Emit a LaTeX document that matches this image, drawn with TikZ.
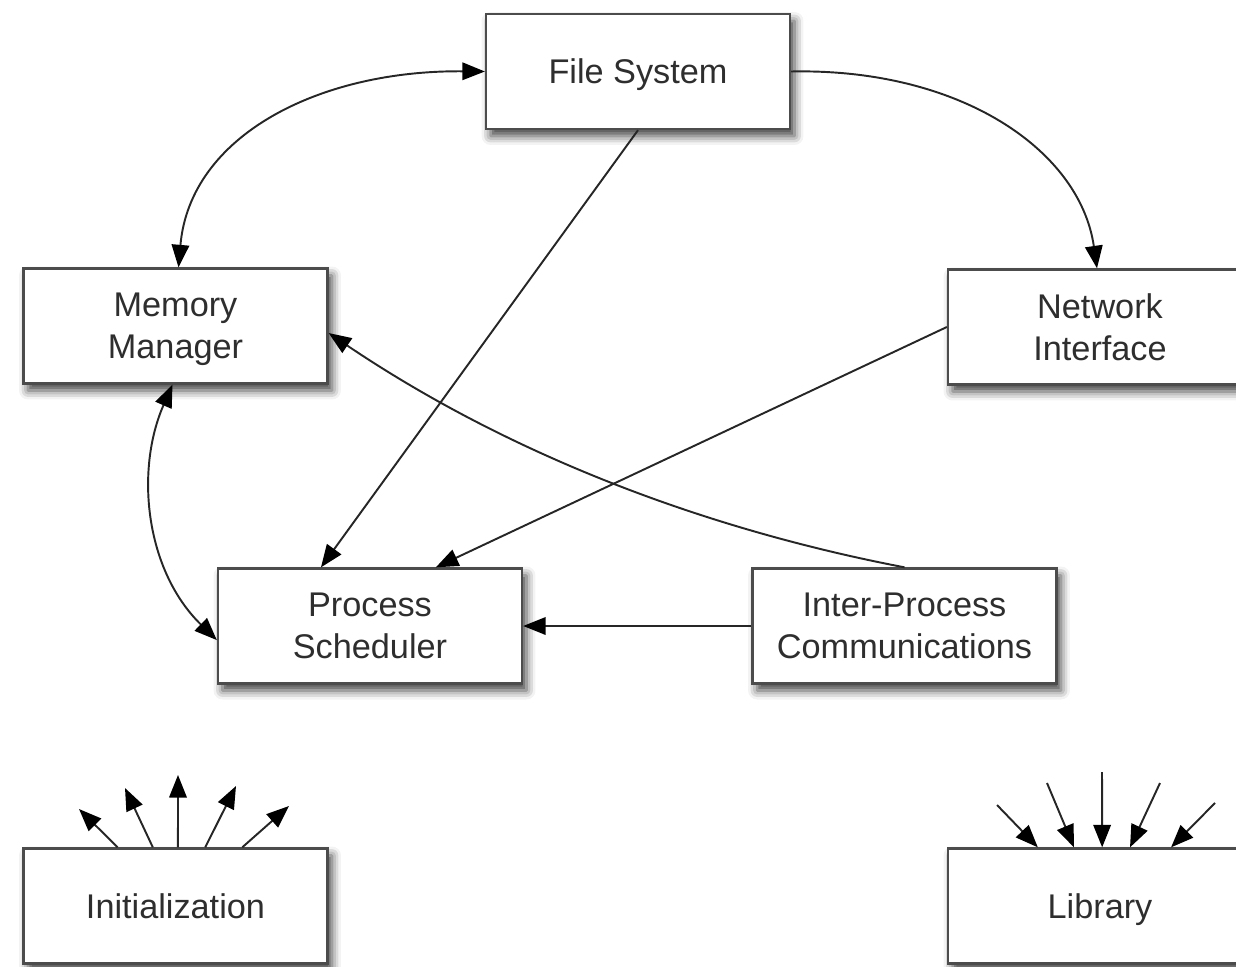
\documentclass[tikz,border=0pt]{standalone}
\usepackage{fontspec}
\setmainfont{Liberation Sans}
\usetikzlibrary{arrows.meta,calc,shadows.blur}
\begin{document}
\begin{tikzpicture}[x=0.02cm,y=-0.02cm,
  box/.style={draw=black!70, line width=1.35pt, fill=white,
    minimum width=6.08cm, minimum height=2.3cm, inner sep=0pt,
    align=center, text=black!82, font=\fontsize{19.5}{24}\selectfont,
    blur shadow={shadow xshift=0.09cm, shadow yshift=-0.14cm,
      shadow blur radius=0.18cm, shadow opacity=75}},
  oneline/.style={text height=14pt, text depth=0pt},
  link/.style={draw=black!85, line width=1.1pt,
    -{Triangle[length=0.45cm,width=0.35cm,color=black]}},
  both/.style={link,
    {Triangle[length=0.45cm,width=0.35cm,color=black]}-{Triangle[length=0.45cm,width=0.35cm,color=black]}},
]
\useasboundingbox (0,0) rectangle (1236,966);
\clip (0,0) rectangle (1236,966);

% subsystems
\node[box,oneline] (fs)   at (638,71.5)  {File System};
\node[box] (mm)   at (175.5,326) {Memory\\\smash{Manager}};
\node[box] (ni)   at (1100,327)  {Network\\Interface};
\node[box] (ps)   at (370,626)   {Process\\Scheduler};
\node[box] (ipc)  at (904.5,626) {Inter-Process\\Communications};
\node[box,oneline] (init) at (175.5,906) {Initialization};
\node[box,oneline] (lib)  at (1100,906)  {Library};

% dependencies between subsystems
\draw[both] (fs.west) .. controls (320,70) and (190,135) .. ($(mm.north)+(3,0)$);
\draw[link] (fs.east) .. controls (960,68) and (1080,150) .. ($(ni.north)+(-3,0)$);
\draw[link] (fs.south) -- ($(ps.north west)!0.34!(ps.north east)$);
\draw[link] (ni.west) -- ($(ps.north west)!0.715!(ps.north east)$);
\draw[link] (ipc.north) .. controls (720,532) and (520,462) .. ($(mm.north east)!0.56!(mm.south east)$);
\draw[link] (ipc.west) -- (ps.east);
\draw[both] ($(mm.south)+(-3,0)$) .. controls (135,470) and (145,570) .. ($(ps.north west)!0.62!(ps.south west)$);

% initialization reaches out to everything
\foreach \f/\tx/\ty [count=\i] in {0.311/79/809, 0.426/125/788, 0.508/178/775, 0.597/236/786, 0.718/289/806} {
  \coordinate (out\i) at (\tx,\ty);
  \draw[link] ($(init.north west)!\f!(init.north east)$) -- (out\i);
}

% everything uses the library
\foreach \f/\sx/\sy [count=\i] in {0.297/997/805, 0.415/1047/783, 0.507/1102/772, 0.598/1160/783, 0.732/1215/803} {
  \coordinate (in\i) at (\sx,\sy);
  \draw[link] (in\i) -- ($(lib.north west)!\f!(lib.north east)$);
}
\end{tikzpicture}
\end{document}
